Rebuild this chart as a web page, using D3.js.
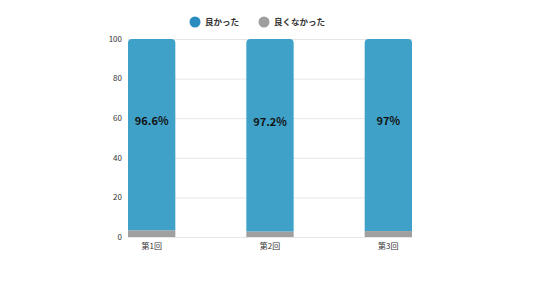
<!DOCTYPE html>
<html>
<head>
<meta charset="utf-8">
<script src="https://cdn.jsdelivr.net/npm/d3@7"></script>
<style>
  body { margin: 0; background: #fff; }
  text { font-family: "Noto Sans CJK JP", "Noto Sans", sans-serif; }
</style>
</head>
<body>
<div id="chart"></div>
<script>
const categories = ["第1回", "第2回", "第3回"];
const good = [96.6, 97.2, 97];
const bad = [3.4, 2.8, 3];
const labels = ["96.6%", "97.2%", "97%"];
const seriesNames = ["良かった", "良くなかった"];
const yTicks = [0, 20, 40, 60, 80, 100];

const width = 536, height = 281;
const colors = ["#3fa1c8", "#a0a0a0"];

const svg = d3.select("#chart").append("svg")
    .attr("width", width)
    .attr("height", height);

const x = d3.scaleBand()
    .domain(categories)
    .range([128, 412])
    .paddingInner(0.6)
    .paddingOuter(0);

const y = d3.scaleLinear()
    .domain([0, 100])
    .range([237, 39]);

// gridlines
svg.append("g")
    .selectAll("line")
    .data(yTicks)
    .join("line")
    .attr("x1", 128)
    .attr("x2", 412)
    .attr("y1", d => y(d) + 0.5)
    .attr("y2", d => y(d) + 0.5)
    .attr("stroke", "#e6e6e6");

// y tick labels
svg.append("g")
    .selectAll("text")
    .data(yTicks)
    .join("text")
    .attr("x", 122)
    .attr("y", d => y(d))
    .attr("dy", "0.35em")
    .attr("text-anchor", "end")
    .attr("font-size", 8)
    .attr("fill", "#333")
    .text(d => d);

const data = categories.map((c, i) => ({cat: c, good: good[i], bad: bad[i], label: labels[i]}));

// gray part (bottom)
svg.append("g")
    .selectAll("rect")
    .data(data)
    .join("rect")
    .attr("x", d => x(d.cat))
    .attr("width", x.bandwidth())
    .attr("y", d => y(d.bad))
    .attr("height", d => y(0) - y(d.bad))
    .attr("fill", colors[1]);

// blue part with rounded top
const r = 4;
svg.append("g")
    .selectAll("path")
    .data(data)
    .join("path")
    .attr("d", d => {
        const x0 = x(d.cat), x1 = x0 + x.bandwidth();
        const yb = y(d.bad), yt = y(d.bad + d.good);
        return `M${x0},${yb}V${yt + r}Q${x0},${yt} ${x0 + r},${yt}H${x1 - r}Q${x1},${yt} ${x1},${yt + r}V${yb}Z`;
    })
    .attr("fill", colors[0]);

// value labels
svg.append("g")
    .selectAll("text")
    .data(data)
    .join("text")
    .attr("x", d => x(d.cat) + x.bandwidth() / 2)
    .attr("y", d => y(d.bad + d.good * 0.57))
    .attr("dy", "0.35em")
    .attr("text-anchor", "middle")
    .attr("font-size", 11)
    .attr("font-weight", "bold")
    .attr("fill", "#111")
    .text(d => d.label);

// x labels
svg.append("g")
    .selectAll("text")
    .data(categories)
    .join("text")
    .attr("x", d => x(d) + x.bandwidth() / 2)
    .attr("y", 246)
    .attr("dy", "0.35em")
    .attr("text-anchor", "middle")
    .attr("font-size", 8)
    .attr("fill", "#333")
    .text(d => d);

// legend
const legendX = [195, 264];
const legend = svg.append("g")
    .selectAll("g")
    .data(seriesNames)
    .join("g")
    .attr("transform", (d, i) => `translate(${legendX[i]},22)`);

legend.append("circle")
    .attr("r", 5.5)
    .attr("fill", (d, i) => i === 0 ? "#2a8bbf" : "#9e9e9e");

legend.append("text")
    .attr("x", 10)
    .attr("dy", "0.35em")
    .attr("font-size", 8.5)
    .attr("font-weight", "bold")
    .attr("fill", "#333")
    .text(d => d);
</script>
</body>
</html>
